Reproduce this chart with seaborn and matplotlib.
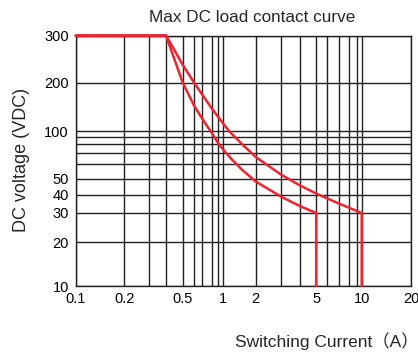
import numpy as np
import pandas as pd
import matplotlib
matplotlib.use("Agg")
import matplotlib.pyplot as plt
import seaborn as sns

# ---- data ----
x_grid = [0.1, 0.2, 0.3, 0.4, 0.5, 0.6, 0.7, 0.8, 0.9, 1, 2, 3, 4, 5, 6, 7, 8, 9, 10, 20]
x_labels = {0.1: "0.1", 0.2: "0.2", 0.5: "0.5", 1: "1", 2: "2", 5: "5", 10: "10", 20: "20"}
y_grid = [10, 20, 30, 40, 50, 60, 70, 80, 90, 100, 200, 300]
y_labels = {10: "10", 20: "20", 30: "30", 40: "40", 50: "50", 100: "100", 200: "200", 300: "300"}

# 5 A curve (lower / left)
lower_I = [0.1, 0.4, 0.45, 0.5, 0.6, 0.7, 0.78, 0.9, 1.0, 1.2, 1.5, 2.0, 3.0, 4.0, 5.0, 5.0]
lower_V = [300, 300, 242, 200, 144, 119, 100, 81, 73.5, 64, 55.8, 48.3, 38.9, 33.5, 30, 10]
# 10 A curve (upper / right)
upper_I = [0.1, 0.4, 0.45, 0.5, 0.6, 0.7, 0.8, 0.9, 1.0, 1.13, 1.5, 2.0, 3.0, 4.0, 5.0, 7.0, 10.0, 10.0]
upper_V = [300, 300, 263, 233, 200, 168, 136.5, 122, 111, 100, 79.6, 66.2, 52.7, 45.7, 40.8, 34.9, 30, 10]

# ---- non-uniform (hand-drawn) log-like axis geometry of the original chart ----
x_axis_pos = [0, 48.6, 73.6, 90.3, 107, 118.3, 126.6, 136.6, 142.6, 147.6,
              180, 205.5, 224.3, 240.5, 251, 263.3, 273.6, 281, 286, 335.3]
y_axis_pos = [0, 44, 73, 91, 107, 122, 133, 142, 149.5, 155, 203.5, 250.5]


def make_scale(knots, pos):
    lk = np.log10(np.asarray(knots, dtype=float))
    p = np.asarray(pos, dtype=float)

    def fwd(v):
        v = np.asarray(v, dtype=float)
        with np.errstate(divide="ignore", invalid="ignore"):
            lv = np.log10(np.where(v > 0, v, 1e-12))
        out = np.interp(lv, lk, p)
        out = np.where(lv < lk[0], p[0] + (lv - lk[0]) * 150, out)
        out = np.where(lv > lk[-1], p[-1] + (lv - lk[-1]) * 150, out)
        return out

    def inv(q):
        q = np.asarray(q, dtype=float)
        out = np.interp(q, p, lk)
        out = np.where(q < p[0], lk[0] + (q - p[0]) / 150, out)
        out = np.where(q > p[-1], lk[-1] + (q - p[-1]) / 150, out)
        return 10 ** out

    return fwd, inv


df = pd.concat([
    pd.DataFrame({"I": lower_I, "V": lower_V, "curve": "5A"}),
    pd.DataFrame({"I": upper_I, "V": upper_V, "curve": "10A"}),
], ignore_index=True)

sns.set_style("white")
plt.rcParams["font.family"] = ["Liberation Sans", "Noto Sans CJK SC", "DejaVu Sans"]

W, H = 418, 353
fig = plt.figure(figsize=(W / 100, H / 100), dpi=100)
left, right, top, bottom = 75.7, 411, 35.5, 286
ax = fig.add_axes([left / W, (H - bottom) / H, (right - left) / W, (bottom - top) / H])

ax.set_xscale("function", functions=make_scale(x_grid, x_axis_pos))
ax.set_yscale("function", functions=make_scale(y_grid, y_axis_pos))
ax.set_xlim(0.1, 20)
ax.set_ylim(10, 300)

ax.set_xticks(x_grid)
ax.set_xticklabels([x_labels.get(v, "") for v in x_grid])
ax.set_yticks(y_grid)
ax.set_yticklabels([y_labels.get(v, "") for v in y_grid])
ax.minorticks_off()
ax.tick_params(axis="both", length=0, labelsize=10.5, colors="black")
ax.tick_params(axis="x", pad=4)
ax.tick_params(axis="y", pad=5)

ax.grid(True, color="#222222", linewidth=1.0)
ax.set_axisbelow(True)
for s in ax.spines.values():
    s.set_color("#222222")
    s.set_linewidth(1.0)

sns.lineplot(data=df, x="I", y="V", hue="curve", sort=False, estimator=None,
             palette=["#ec2530", "#ec2530"], linewidth=1.8, legend=False, ax=ax,
             clip_on=False, zorder=5)
ax.set_xlim(0.1, 20)
ax.set_ylim(10, 300)

ax.set_xlabel("")
ax.set_ylabel("")

fig.text(252.5 / W, 1 - 17 / H, "Max DC load contact curve", ha="center", va="center", fontsize=12.3)
fig.text(22 / W, 1 - 160 / H, "DC voltage (VDC)", ha="center", va="center", rotation=90, fontsize=13)
fig.text(327 / W, 1 - 341 / H, "Switching Current（A）", ha="center", va="center", fontsize=12.5)

fig.savefig("out.png", dpi=100)
